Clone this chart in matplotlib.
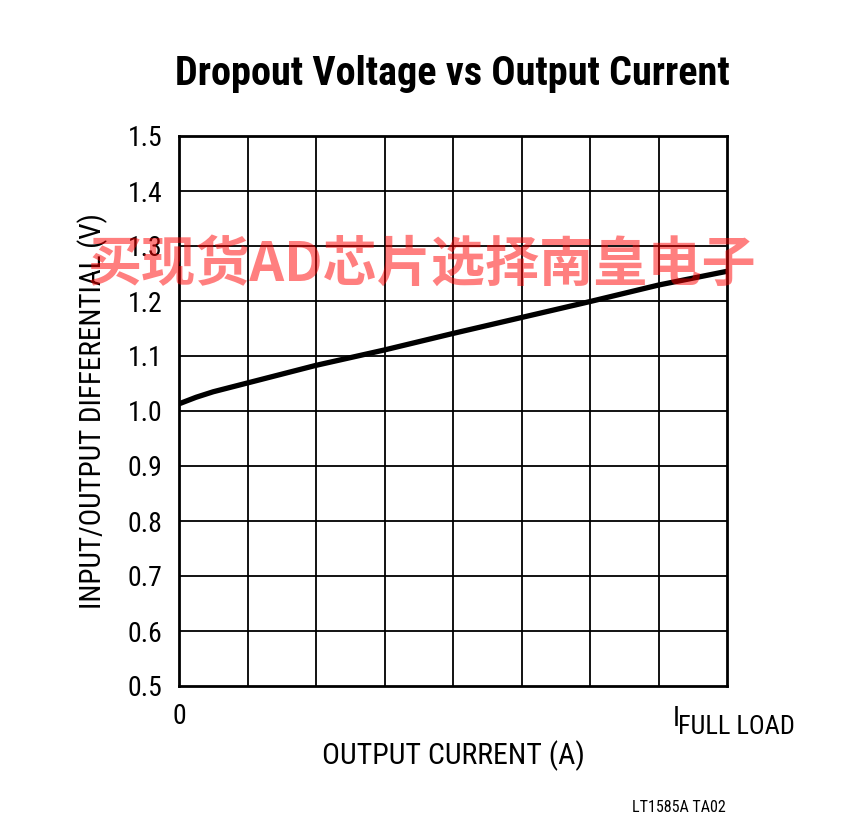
import matplotlib
matplotlib.use("Agg")
import matplotlib.pyplot as plt
import numpy as np

# Data
current = [0, 0.25, 0.5, 1, 2, 3, 4, 5, 6, 7, 8]
dropout = [1.013, 1.025, 1.035, 1.051, 1.083, 1.111, 1.141, 1.170, 1.199, 1.229, 1.254]
ytick_vals = [0.5, 0.6, 0.7, 0.8, 0.9, 1.0, 1.1, 1.2, 1.3, 1.4, 1.5]
ytick_labels = ['0.5', '0.6', '0.7', '0.8', '0.9', '1.0', '1.1', '1.2', '1.3', '1.4', '1.5']
xgrid = [0, 1, 2, 3, 4, 5, 6, 7, 8]
xtick_left = '0'
xtick_right_main = 'I'
xtick_right_sub = 'FULL LOAD'
title = 'Dropout Voltage vs Output Current'
xlabel = 'OUTPUT CURRENT (A)'
ylabel = 'INPUT/OUTPUT DIFFERENTIAL (V)'
footnote = 'LT1585A TA02'
watermark = '买现货AD芯片选择南皇电子'

fam = ['Roboto Condensed', 'DejaVu Sans']
plt.rcParams['font.family'] = fam

W, H = 865, 835
fig = plt.figure(figsize=(W / 100, H / 100), dpi=100)
ax = fig.add_axes([179 / W, 1 - 686 / H, (727 - 179) / W, (686 - 136) / H])

ax.set_xlim(0, 8)
ax.set_ylim(0.5, 1.5)
for x in xgrid[1:-1]:
    ax.axvline(x, color='black', lw=1.3, zorder=1)
for y in ytick_vals[1:-1]:
    ax.axhline(y, color='black', lw=1.3, zorder=1)
for s in ax.spines.values():
    s.set_linewidth(2)
    s.set_color('black')

ax.plot(current, dropout, color='black', lw=3.8, solid_capstyle='butt', zorder=3)

ax.set_yticks(ytick_vals)
ax.set_yticklabels(ytick_labels, fontsize=20)
ax.set_xticks([0])
ax.set_xticklabels([xtick_left], fontsize=20)
ax.tick_params(length=0, pad=12)
ax.tick_params(axis='x', pad=12)

ax.text(8 - 0.79, 0.5 - 0.034, xtick_right_main, fontsize=20, ha='left', va='top', transform=ax.transData)
ax.text(8 - 0.71, 0.5 - 0.052, xtick_right_sub, fontsize=19, ha='left', va='top', transform=ax.transData,
        clip_on=False)

ax.set_xlabel(xlabel, fontsize=21.5, labelpad=8)
ax.set_ylabel(ylabel, fontsize=21, labelpad=14)

fig.text(452 / W, 1 - 74 / H, title, fontsize=29, fontweight='bold', ha='center', va='center')
fig.text(679 / W, 1 - 807 / H, footnote, fontsize=11.5, ha='center', va='center')

fig.text(421 / W, 1 - 265 / H, watermark, fontsize=39, fontweight='bold', color='#ff0000', alpha=0.5,
         ha='center', va='center', family=['Noto Sans CJK SC', 'DejaVu Sans'], zorder=10)

fig.savefig('out.png', dpi=100)
